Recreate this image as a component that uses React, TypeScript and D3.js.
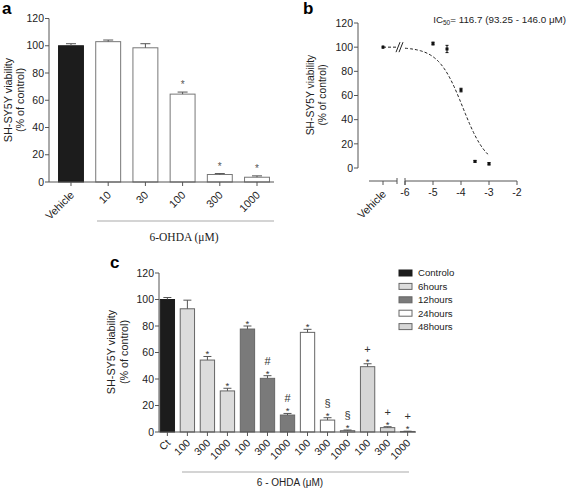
import React from "react";
import * as d3 from "d3";

// ---------- Panel a data ----------
const aCategories = ["Vehicle", "10", "30", "100", "300", "1000"];
const aValues = [100, 103, 98.5, 64.5, 5.5, 3.5];
const aErrors = [1.5, 1.2, 3, 1.5, 0.7, 1.0];
const aStars = [false, false, false, true, true, true];
const yTicks = [0, 20, 40, 60, 80, 100, 120];

// ---------- Panel b data ----------
const bLogConc = [-5, -4.5, -4, -3.5, -3];
const bValues = [103, 98.5, 64.5, 5.5, 3.5];
const bErrors = [1.2, 3, 1.5, 0.7, 1.0];
const bVehicleValue = 100;
const bVehicleError = 1.5;
const bXTicks = [-6, -5, -4, -3, -2];
const IC50_uM = 116.7;
const hillSlope = 1;
const hillTop = 100;
const hillBottom = 0;

// ---------- Panel c data ----------
const cLabels = ["Ct", "100", "300", "1000", "100", "300", "1000", "100", "300", "1000", "100", "300", "1000"];
const cGroups = ["Controlo", "6hours", "6hours", "6hours", "12hours", "12hours", "12hours", "24hours", "24hours", "24hours", "48hours", "48hours", "48hours"];
const cValues = [100, 93, 54.3, 31, 77.7, 40.5, 12.8, 75.2, 9, 1, 49.3, 3.3, 0.4];
const cErrors = [1.5, 6.5, 2.7, 2, 2.3, 2, 1.2, 2.3, 1.8, 0.5, 2.2, 0.7, 0.2];
const cStars = [false, false, true, true, true, true, true, true, true, true, true, true, true];
const cSymbols = ["", "", "", "", "", "#", "#", "", "§", "§", "+", "+", "+"];
const legendGroups = ["Controlo", "6hours", "12hours", "24hours", "48hours"];
const legendColors = ["#1c1c1c", "#dcdcdc", "#7a7a7a", "#ffffff", "#d6d6d6"];

const FONT = "'Liberation Sans', Arial, Helvetica, sans-serif";
const SERIF = "'Liberation Serif', 'Times New Roman', serif";
const AX = "#555";

function YAxis({ y, x, fs }: { y: d3.ScaleLinear<number, number>; x: number; fs: number }) {
  const [r0, r1] = y.range();
  return (
    <g>
      <line x1={x} x2={x} y1={r0} y2={r1} stroke={AX} strokeWidth={1} />
      {yTicks.map((t) => (
        <g key={t}>
          <line x1={x - 4} x2={x} y1={y(t)} y2={y(t)} stroke={AX} strokeWidth={1} />
          <text x={x - 5} y={y(t)} dy="0.35em" textAnchor="end" fontSize={fs} fontFamily={FONT} fill="#222">
            {t}
          </text>
        </g>
      ))}
    </g>
  );
}

function YTitle({ cx, cy, fs, gap }: { cx: number; cy: number; fs: number; gap: number }) {
  return (
    <g transform={`translate(${cx},${cy}) rotate(-90)`}>
      <text x={0} y={0} textAnchor="middle" fontSize={fs} fontFamily={FONT} fill="#222">
        SH-SY5Y viability
      </text>
      <text x={0} y={gap} textAnchor="middle" fontSize={fs} fontFamily={FONT} fill="#222">
        (% of control)
      </text>
    </g>
  );
}

function PanelA() {
  const y = d3.scaleLinear().domain([0, 120]).range([182, 18.5]);
  const x = d3.scaleBand<string>().domain(aCategories).range([49, 279]).paddingInner(0.33).paddingOuter(0.256);
  const bw = x.bandwidth();
  return (
    <g>
      <text x={2} y={14} fontSize={17} fontWeight="bold" fontFamily={FONT}>a</text>
      <YTitle cx={12} cy={100} fs={10.8} gap={12} />
      {aCategories.map((c, i) => {
        const x0 = x(c)!;
        const cx = x0 + bw / 2;
        const top = y(aValues[i]);
        const et = y(aValues[i] + aErrors[i]);
        return (
          <g key={c}>
            <rect x={x0} y={top} width={bw} height={y(0) - top} fill={i === 0 ? "#1c1c1c" : "#fff"} stroke={i === 0 ? "#1c1c1c" : "#777"} strokeWidth={1} />
            <line x1={cx} x2={cx} y1={top} y2={et} stroke="#555" />
            <line x1={cx - 5} x2={cx + 5} y1={et} y2={et} stroke="#555" />
            {aStars[i] && (
              <text x={cx} y={et - 4} textAnchor="middle" fontSize={10} fontFamily={FONT} fill="#555">*</text>
            )}
          </g>
        );
      })}
      <YAxis y={y} x={49} fs={10.5} />
      <line x1={49} x2={274} y1={182} y2={182} stroke={AX} />
      {aCategories.map((c) => {
        const cx = x(c)! + bw / 2;
        return (
          <g key={c}>
            <line x1={cx} x2={cx} y1={182} y2={186} stroke={AX} />
            <text transform={`translate(${cx + 1},${193}) rotate(-45)`} textAnchor="end" dy="0.35em" fontSize={10.8} fontFamily={FONT} fill="#222">
              {c}
            </text>
          </g>
        );
      })}
      <line x1={97} x2={274} y1={221} y2={221} stroke="#aaa" strokeWidth={1.2} />
      <text x={184} y={241} textAnchor="middle" fontSize={11.5} fontFamily={SERIF} fill="#222">6-OHDA (μM)</text>
    </g>
  );
}

function PanelB() {
  const y = d3.scaleLinear().domain([0, 120]).range([168, 23]);
  const x = d3.scaleLinear().domain([-6, -2]).range([405, 517]);
  const vx = 383;
  const logIC50 = Math.log10(IC50_uM * 1e-6);
  const hill = (lx: number) => hillBottom + (hillTop - hillBottom) / (1 + Math.pow(10, (lx - logIC50) * hillSlope));
  const curveX = d3.range(-6, -2.999, 0.05);
  const line = d3.line<number>().x((d) => x(d)).y((d) => y(hill(d)));
  const axY = 181;
  return (
    <g>
      <text x={303} y={14} fontSize={17} fontWeight="bold" fontFamily={FONT}>b</text>
      <YTitle cx={314} cy={95} fs={10.3} gap={11.5} />
      <YAxis y={y} x={358} fs={10.5} />
      <text x={566} y={23} textAnchor="end" fontSize={9.8} fontFamily={FONT} fill="#222">
        IC<tspan fontSize={6.5} dy={2}>50</tspan><tspan dy={-2}>= {IC50_uM} (93.25 - 146.0  μM)</tspan>
      </text>
      {/* vehicle dashed connector and axis break */}
      <line x1={vx} x2={396} y1={y(bVehicleValue)} y2={y(bVehicleValue)} stroke="#222" strokeDasharray="3,2" />
      <line x1={396} x2={400} y1={y(bVehicleValue) + 5} y2={y(bVehicleValue) - 5} stroke="#222" />
      <line x1={399} x2={403} y1={y(bVehicleValue) + 5} y2={y(bVehicleValue) - 5} stroke="#222" />
      <path d={line(curveX) || ""} fill="none" stroke="#222" strokeWidth={1} strokeDasharray="3,2" />
      {/* points */}
      <rect x={vx - 1.5} y={y(bVehicleValue) - 1.5} width={3} height={3} fill="#111" />
      <line x1={vx} x2={vx} y1={y(bVehicleValue - bVehicleError)} y2={y(bVehicleValue + bVehicleError)} stroke="#111" />
      {bLogConc.map((lc, i) => {
        const px = x(lc);
        const py = y(bValues[i]);
        const e1 = y(bValues[i] + bErrors[i]);
        const e0 = y(bValues[i] - bErrors[i]);
        return (
          <g key={lc}>
            <line x1={px} x2={px} y1={e0} y2={e1} stroke="#111" />
            <line x1={px - 1.5} x2={px + 1.5} y1={e1} y2={e1} stroke="#111" />
            <line x1={px - 1.5} x2={px + 1.5} y1={e0} y2={e0} stroke="#111" />
            <rect x={px - 1.5} y={py - 1.5} width={3} height={3} fill="#111" />
          </g>
        );
      })}
      {/* x axis segments */}
      <line x1={369} x2={397} y1={axY} y2={axY} stroke={AX} />
      <line x1={vx} x2={vx} y1={axY} y2={axY + 4} stroke={AX} />
      <line x1={397} x2={397} y1={axY - 3} y2={axY + 3} stroke={AX} />
      <text transform={`translate(${vx + 1},${axY + 11}) rotate(-45)`} textAnchor="end" dy="0.35em" fontSize={10.8} fontFamily={FONT} fill="#222">Vehicle</text>
      <line x1={x(-6)} x2={x(-2)} y1={axY} y2={axY} stroke={AX} />
      <line x1={x(-6)} x2={x(-6)} y1={axY - 3} y2={axY + 4} stroke={AX} />
      {bXTicks.map((t) => (
        <g key={t}>
          <line x1={x(t)} x2={x(t)} y1={axY} y2={axY + 4} stroke={AX} />
          <text x={x(t)} y={axY + 15} textAnchor="middle" fontSize={10.5} fontFamily={FONT} fill="#222">{t}</text>
        </g>
      ))}
    </g>
  );
}

function PanelC() {
  const y = d3.scaleLinear().domain([0, 120]).range([432, 273]);
  const idx = cLabels.map((_, i) => String(i));
  const x = d3.scaleBand<string>().domain(idx).range([159, 416]).paddingInner(0.285).paddingOuter(0.06);
  const bw = x.bandwidth();
  const color = d3.scaleOrdinal<string, string>().domain(legendGroups).range(legendColors);
  return (
    <g>
      <text x={110} y={268} fontSize={17} fontWeight="bold" fontFamily={FONT}>c</text>
      <YTitle cx={115} cy={352} fs={10.8} gap={12.5} />
      {idx.map((k, i) => {
        const x0 = x(k)!;
        const cx = x0 + bw / 2;
        const top = y(cValues[i]);
        const et = y(cValues[i] + cErrors[i]);
        return (
          <g key={k}>
            <rect x={x0} y={top} width={bw} height={y(0) - top} fill={color(cGroups[i])} stroke={i === 0 ? "#1c1c1c" : "#666"} strokeWidth={1} />
            <line x1={cx} x2={cx} y1={top} y2={et} stroke="#555" />
            <line x1={cx - 4} x2={cx + 4} y1={et} y2={et} stroke="#555" />
            {cStars[i] && (
              <text x={cx} y={et + 1} textAnchor="middle" fontSize={9.5} fontFamily={FONT} fill="#333">*</text>
            )}
            {cSymbols[i] && (
              <text x={cx} y={et - 11} textAnchor="middle" fontSize={11} fontFamily={FONT} fill="#333">{cSymbols[i]}</text>
            )}
          </g>
        );
      })}
      <YAxis y={y} x={159} fs={10.5} />
      <line x1={159} x2={416} y1={432} y2={432} stroke={AX} />
      {idx.map((k, i) => {
        const cx = x(k)! + bw / 2;
        return (
          <g key={k}>
            <line x1={cx} x2={cx} y1={432} y2={436} stroke={AX} />
            <text transform={`translate(${cx + 1},${441}) rotate(-45)`} textAnchor="end" dy="0.35em" fontSize={10.5} fontFamily={FONT} fill="#222">
              {cLabels[i]}
            </text>
          </g>
        );
      })}
      <line x1={182} x2={409} y1={472} y2={472} stroke="#aaa" strokeWidth={1.2} />
      <text x={290} y={486} textAnchor="middle" fontSize={10} fontFamily={FONT} fill="#222">6 - OHDA (μM)</text>
      {legendGroups.map((g, i) => (
        <g key={g} transform={`translate(399,${273 + i * 13.4})`}>
          <rect x={0} y={-3} width={13} height={6} fill={legendColors[i]} stroke={i === 0 ? "#1c1c1c" : "#666"} />
          <text x={19} y={0} dy="0.35em" fontSize={9.6} fontFamily={FONT} fill="#222">{g}</text>
        </g>
      ))}
    </g>
  );
}

export default function App() {
  return (
    <svg width={567} height={489} style={{ position: "absolute", left: 0, top: 0, background: "#fff" }}>
      <rect width={567} height={489} fill="#fff" />
      <PanelA />
      <PanelB />
      <PanelC />
    </svg>
  );
}
